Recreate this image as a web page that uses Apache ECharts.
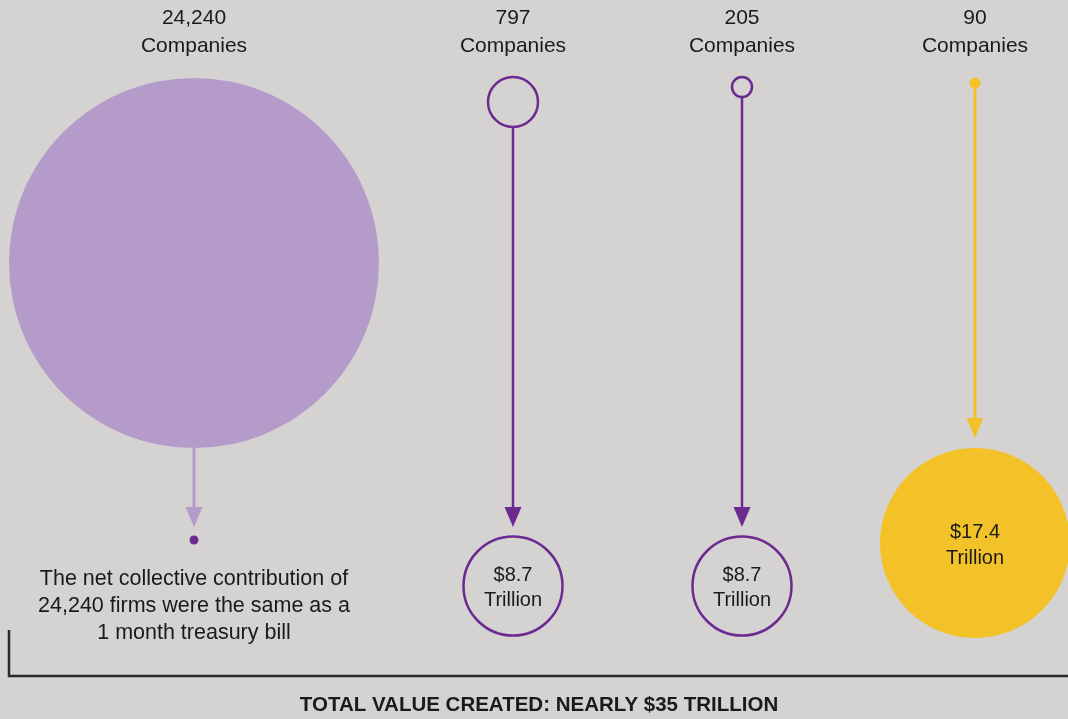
<!DOCTYPE html>
<html>
<head>
<meta charset="utf-8">
<title>Total value created</title>
<script src="https://cdn.jsdelivr.net/npm/echarts@6/dist/echarts.min.js"></script>
<style>
  html, body { margin: 0; padding: 0; background: #d4d3d1; }
  #chart { width: 1068px; height: 719px; }
</style>
</head>
<body>
<div id="chart"></div>
<script>
// ---- data ----
const companies = [24240, 797, 205, 90];          // number of firms in each group
const valueTrillions = [null, 8.7, 8.7, 17.4];    // value created, $ trillion
const noteText = 'The net collective contribution of\n24,240 firms were the same as a\n1 month treasury bill';
const totalText = 'TOTAL VALUE CREATED: NEARLY $35 TRILLION';

// ---- layout (pixel space of the 1068 x 719 canvas) ----
const colX = [194, 513, 742, 975];
const topY = [263, 102, 87, 83];
const topDiameter = [370, 50, 20, 11];
const countLabelY = 32;
const arrowTipY = [527, 527, 527, 438];
const bottomY = [540, 586, 586, 543];
const bottomDiameter = [9, 99, 99, 190];

// ---- palette ----
const BG = '#d4d3d1';
const LILAC = '#b59bca';
const PURPLE = '#6c2a91';
const YELLOW = '#f3c228';
const TEXT = '#1a1a1a';
const FONT = 'Liberation Sans';

const topStyles = [
  { color: LILAC, opacity: 1 },
  { color: 'transparent', borderColor: PURPLE, borderWidth: 2.5, opacity: 1 },
  { color: 'transparent', borderColor: PURPLE, borderWidth: 2.5, opacity: 1 },
  { color: YELLOW, opacity: 1 }
];
const lineColors = [LILAC, PURPLE, PURPLE, YELLOW];
const bottomStyles = [
  { color: PURPLE, opacity: 1 },
  { color: 'transparent', borderColor: PURPLE, borderWidth: 2.5, opacity: 1 },
  { color: 'transparent', borderColor: PURPLE, borderWidth: 2.5, opacity: 1 },
  { color: YELLOW, opacity: 1 }
];

const chart = echarts.init(document.getElementById('chart'), null, { renderer: 'canvas' });

const option = {
  backgroundColor: BG,
  animation: false,
  textStyle: { fontFamily: FONT },
  grid: { left: 0, right: 0, top: 0, bottom: 0 },
  xAxis: { type: 'value', min: 0, max: 1068, show: false },
  yAxis: { type: 'value', min: 0, max: 719, inverse: true, show: false },
  series: [
    // headcount labels above each column
    {
      type: 'scatter',
      symbolSize: 0,
      silent: true,
      itemStyle: { opacity: 1 },
      data: companies.map((n, i) => ({ value: [colX[i], countLabelY] })),
      label: {
        show: true,
        position: 'inside',
        formatter: p => companies[p.dataIndex].toLocaleString('en-US') + '\nCompanies',
        fontSize: 21,
        lineHeight: 28,
        color: TEXT,
        fontFamily: FONT
      }
    },
    // group bubbles
    {
      type: 'scatter',
      silent: true,
      data: companies.map((n, i) => ({
        value: [colX[i], topY[i]],
        symbolSize: topDiameter[i],
        itemStyle: topStyles[i]
      }))
    },
    // connectors with arrow heads
    {
      type: 'custom',
      silent: true,
      data: companies.map((n, i) => [colX[i], topY[i] + topDiameter[i] / 2, arrowTipY[i], i]),
      renderItem: (params, api) => {
        const i = api.value(3);
        const x = api.value(0);
        const start = api.coord([x, api.value(1)]);
        const tip = api.coord([x, api.value(2)]);
        const headH = 20, headW = 8.5;
        const color = lineColors[i];
        return {
          type: 'group',
          children: [
            {
              type: 'line',
              shape: { x1: start[0], y1: start[1], x2: tip[0], y2: tip[1] - headH + 1 },
              style: { stroke: color, lineWidth: i === 1 || i === 2 ? 2.5 : 3 }
            },
            {
              type: 'polygon',
              shape: { points: [[tip[0] - headW, tip[1] - headH], [tip[0] + headW, tip[1] - headH], [tip[0], tip[1]]] },
              style: { fill: color }
            }
          ]
        };
      }
    },
    // resulting value circles
    {
      type: 'scatter',
      silent: true,
      data: valueTrillions.map((v, i) => ({
        value: [colX[i], bottomY[i]],
        symbolSize: bottomDiameter[i],
        itemStyle: bottomStyles[i],
        label: {
          show: v !== null,
          position: 'inside',
          offset: [0, 2],
          formatter: () => '$' + v + '\nTrillion',
          fontSize: 20,
          lineHeight: i === 3 ? 26 : 25,
          color: TEXT,
          fontFamily: FONT
        }
      }))
    }
  ],
  graphic: [
    {
      type: 'text',
      x: colX[0],
      y: 566,
      style: {
        text: noteText,
        align: 'center',
        fontSize: 21.5,
        lineHeight: 27,
        fill: TEXT,
        fontFamily: FONT
      }
    },
    {
      type: 'polyline',
      shape: { points: [[9, 630], [9, 676], [1068, 676]] },
      style: { stroke: '#2b2b2b', lineWidth: 2.5, fill: null }
    },
    {
      type: 'text',
      x: 539,
      y: 705,
      style: {
        text: totalText,
        align: 'center',
        verticalAlign: 'middle',
        fontSize: 20.5,
        fontWeight: 'bold',
        fill: TEXT,
        fontFamily: FONT
      }
    }
  ]
};

chart.setOption(option);
</script>
</body>
</html>
